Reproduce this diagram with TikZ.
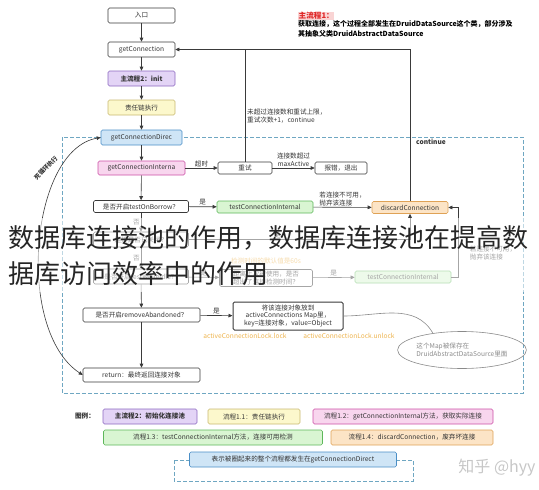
\documentclass[tikz,border=0pt]{standalone}
\usepackage{fontspec}
\setmainfont{Noto Sans CJK SC}
\usepackage{tikz}
\usetikzlibrary{positioning,calc,shapes.geometric,arrows.meta}

\definecolor{linegray}{HTML}{3A3A3A}
\definecolor{textgray}{HTML}{333333}
\definecolor{initfill}{HTML}{E3D4F6}
\definecolor{initline}{HTML}{8C68C0}
\definecolor{chainfill}{HTML}{FCF8CC}
\definecolor{chainline}{HTML}{C8B870}
\definecolor{directfill}{HTML}{CFE5F6}
\definecolor{directline}{HTML}{4A8EC6}
\definecolor{internalfill}{HTML}{F8D6EE}
\definecolor{internalline}{HTML}{CC4EA6}
\definecolor{testfill}{HTML}{D9F5D2}
\definecolor{testline}{HTML}{5DB75A}
\definecolor{discardfill}{HTML}{FCE4C6}
\definecolor{discardline}{HTML}{DFA256}
\definecolor{framecolor}{HTML}{6FA7C2}
\definecolor{lockcolor}{HTML}{EDB24A}
\definecolor{notegray}{HTML}{8A8A8A}
\definecolor{markred}{HTML}{E02828}
\definecolor{markfill}{HTML}{F9D4D4}

\newcommand{\boxfont}{\fontsize{6.6}{7.8}\selectfont}
\newcommand{\notefont}{\fontsize{7}{9.5}\selectfont\bfseries}

\begin{document}
\begin{tikzpicture}[x=1pt,y=-1pt,
    box/.style={draw=linegray, fill=white, rounded corners=1.5pt, line width=0.6pt,
      inner sep=1pt, font=\boxfont, text=textgray, align=center},
    mainsize/.style={minimum width=67pt, minimum height=15pt},
    initbox/.style={box, draw=initline, fill=initfill, font=\boxfont\bfseries},
    chainbox/.style={box, draw=chainline, fill=chainfill},
    directbox/.style={box, draw=directline, fill=directfill},
    internalbox/.style={box, draw=internalline, fill=internalfill},
    testbox/.style={box, draw=testline, fill=testfill},
    discardbox/.style={box, draw=discardline, fill=discardfill},
    flow/.style={-{Triangle[length=4pt,width=3.6pt]}, draw=linegray, line width=0.6pt},
    link/.style={draw=linegray, line width=0.6pt},
    lbl/.style={font=\boxfont, text=textgray, inner sep=1pt, align=left},
    frame/.style={draw=framecolor, line width=0.8pt, dash pattern=on 4pt off 2pt},
  ]
\useasboundingbox (0,0) rectangle (539,490);

% Frame of getConnectionDirect
\draw[frame] (62,137) rectangle (523,393);

% Main chain
\node[box, mainsize] (entry) at (141.5,15.5) {入口};
\node[box, mainsize] (getconn) at (141.5,49.5) {getConnection};
\node[initbox, mainsize] (init) at (141.5,78.5) {主流程2：init};
\node[chainbox, mainsize] (chain) at (141.5,107.5) {责任链执行};
\node[directbox, minimum width=81pt, minimum height=15pt] (direct) at (141.5,137.5) {getConnectionDirec};
\node[internalbox, minimum width=87pt, minimum height=14pt] (internal) at (141.5,168) {getConnectionInterna};
\node[box, minimum width=54pt, minimum height=12pt] (retry) at (245,168) {重试};
\node[box, minimum width=52pt, minimum height=12pt] (fail) at (341,168) {报错，退出};

% Checks inside getConnectionDirect
\node[box, minimum width=95pt, minimum height=12pt] (borrow) at (141,206.5) {是否开启testOnBorrow？};
\node[testbox, minimum width=96pt, minimum height=12pt] (testconn) at (265,207) {testConnectionInternal};
\node[discardbox, minimum width=76pt, minimum height=12pt] (discard) at (410,207.5) {discardConnection};
\node[box, minimum width=95pt, minimum height=15pt] (closed) at (141,239.5) {连接是否已关闭？};
\node[box, minimum width=95pt, minimum height=15pt] (idle) at (141,276.5) {是否开启testWhileIdle？};
\node[box, minimum width=93pt, minimum height=17pt] (idletime) at (266,278) {距离上次被使用，是否\\超出了连接检测时间？};
\node[testbox, minimum width=96pt, minimum height=12pt] (testconn2) at (403,277) {testConnectionInternal};
\node[box, minimum width=117pt, minimum height=14pt] (abandoned) at (141.5,315) {是否开启removeAbandoned？};
\node[box, minimum width=117pt, minimum height=14pt] (ret) at (141.5,375) {return：最终返回连接对象};
\node[box, line width=1pt, minimum width=110pt, minimum height=28pt] (mapbox) at (288,316)
  {将该连接对象放到\\activeConnections Map里，\\key=连接对象，value=Object};
\node[ellipse, draw=notegray, line width=0.6pt, minimum width=110pt, minimum height=37pt,
  inner sep=0pt, font=\boxfont, text=notegray, align=left] (mapnote) at (462,350)
  {这个Map被保存在\\DruidAbstractDataSource里面};
\node[lbl, text=lockcolor] (lock) at (245,336) {activeConnectionLock.lock};
\node[lbl, text=lockcolor] (unlock) at (349,336) {activeConnectionLock.unlock};
\node[lbl, text=lockcolor] (idlenote) at (266,261) {检测时间的默认值是60s};

% Connectors
\draw[flow] (entry) -- (getconn);
\draw[flow] (getconn) -- (init);
\draw[flow] (init) -- (chain);
\draw[flow] (chain) -- (direct);
\draw[flow] (direct) -- (internal);
\draw[flow] (internal) -- (borrow);
\draw[flow] (internal) -- node[lbl, above] {超时} (retry);
\draw[flow] (retry) -- node[lbl, above, align=center] {连接数超过\\maxActive} (fail);
\draw[flow] (borrow) -- node[lbl, above] {是} (testconn);
\draw[flow] (testconn) -- node[lbl, above] {若连接不可用，\\抛弃该连接} (discard);
\draw[flow] (borrow) -- node[lbl, left] {否} (closed);
\draw[flow] (closed) -| node[lbl, above, pos=0.2] {是} (discard);
\draw[flow] (closed) -- node[lbl, left] {否} (idle);
\draw[flow] (idle) -- node[lbl, above] {是} (idletime);
\draw[flow] (idletime) -- node[lbl, above] {是} (testconn2);
\draw[flow] (testconn2.east) -- ++(7,0) |- (discard.east);
\node[lbl] (unusable) at (493,253) {若连接不可用，\\抛弃该连接};
\draw[flow] (idle) -- (abandoned);
\draw[flow] (abandoned) -- node[lbl, above] {是} (mapbox);
\draw[flow] (abandoned) -- (ret);
\draw[draw=notegray, line width=0.6pt] (mapnote.150) to[out=120, in=0] (mapbox.east);

% continue back to getConnection
\draw[flow] (discard.north) |- (getconn.east);
\draw[link] (retry.north) -- (retry.north |- getconn.east);
\node[lbl, font=\boxfont\bfseries] (cont) at (431,142) {continue};
\node[lbl, anchor=west] (retrynote) at (246,116) {未超过连接数和重试上限，\\重试次数+1，continue};

% Endless loop
\draw[{Triangle[length=4pt,width=3.6pt]}-{Triangle[length=4pt,width=3.6pt]}, link]
  (direct.west) .. controls (30,150) and (15,330) .. (ret.west);
\node[lbl, font=\fontsize{6}{7}\selectfont\bfseries, rotate=45] (loop) at (46,168) {死循环执行};

% Note on main flow 1
\node[anchor=west, inner sep=0.5pt, fill=markfill, text=markred, font=\fontsize{7.6}{9}\selectfont\bfseries] (mainone) at (298,16) {主流程1：};
\node[anchor=north west, inner sep=0pt, align=left, font=\notefont, text=black] (mainonetext) at (298,20.5)
  {获取连接，这个过程全部发生在DruidDataSource这个类，部分涉及\\其抽象父类DruidAbstractDataSource};

% Legend
\node[lbl, font=\boxfont\bfseries] (legtitle) at (85,416) {图例：};
\node[initbox, minimum width=94pt, minimum height=15pt] (leginit) at (150,416.5) {主流程2：初始化连接池};
\node[chainbox, minimum width=92pt, minimum height=15pt] (legchain) at (254,416.5) {流程1.1：责任链执行};
\node[internalbox, minimum width=180pt, minimum height=15pt] (leginternal) at (403,416.5) {流程1.2：getConnectionInternal方法，获取实际连接};
\node[testbox, minimum width=219pt, minimum height=15pt] (legtest) at (213,437.5) {流程1.3：testConnectionInternal方法，连接可用检测};
\node[discardbox, minimum width=162pt, minimum height=15pt] (legdiscard) at (412,437.5) {流程1.4：discardConnection，废弃坏连接};
\draw[frame] (174,460) rectangle (413,481);
\node[directbox, minimum width=207pt, minimum height=15pt] (legdirect) at (293,459.5) {表示被圈起来的整个流程都发生在getConnectionDirect};

% Watermark and caption
\node[font=\fontsize{16}{18}\selectfont, text=black!22] (zhihu) at (497,468) {知乎 @hyy};
\fill[white, opacity=0.55] (0,218) rectangle (539,292);
\node[anchor=west, inner sep=0pt, font=\fontsize{26}{30}\selectfont, text=black!85] (caption1) at (8,238) {数据库连接池的作用，数据库连接池在提高数};
\node[anchor=west, inner sep=0pt, font=\fontsize{26}{30}\selectfont, text=black!85] (caption2) at (8,274) {据库访问效率中的作用};
\end{tikzpicture}
\end{document}
